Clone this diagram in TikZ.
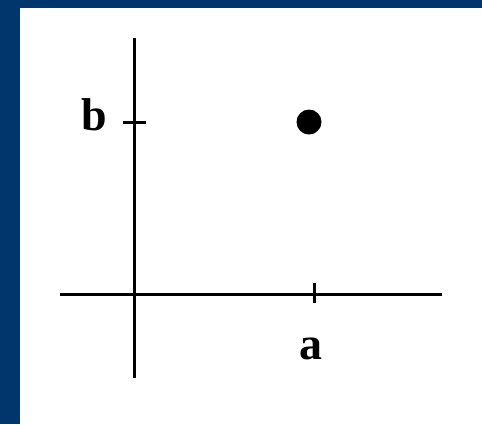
\documentclass[tikz,border=0pt]{standalone}
\usepackage{fontspec}
\setmainfont{Liberation Serif}
\definecolor{frameblue}{HTML}{00366B}
\begin{document}
\begin{tikzpicture}[x=1pt,y=-1pt,
  axis/.style={line width=3pt,black},
  lbl/.style={inner sep=0pt,font=\fontsize{46}{46}\selectfont\bfseries}]
\useasboundingbox (0,0) rectangle (482,424);
\fill[white] (0,0) rectangle (482,424);
\fill[frameblue] (0,0) rectangle (482,8);
\fill[frameblue] (0,0) rectangle (20,424);
\coordinate (yt) at (134,38);
\coordinate (yb) at (134,378);
\coordinate (xl) at (60,294);
\coordinate (xr) at (442,294);
\draw[axis] (yt) -- (yb);
\draw[axis] (xl) -- (xr);
\coordinate (bt1) at (123,122);
\coordinate (bt2) at (146,122);
\draw[axis] (bt1) -- (bt2);
\coordinate (at1) at (314,283);
\coordinate (at2) at (314,303);
\draw[axis] (at1) -- (at2);
\node[lbl,anchor=base] (b) at (94,130) {b};
\node[lbl,anchor=base] (a) at (311,359) {a};
\node[circle,fill=black,inner sep=0pt,minimum size=25pt] (p) at (309,122) {};
\end{tikzpicture}
\end{document}
